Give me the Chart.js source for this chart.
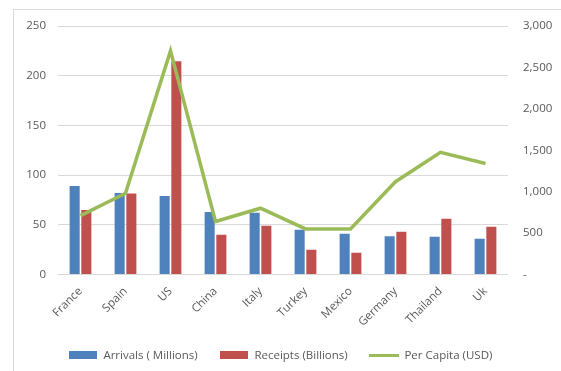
<!DOCTYPE html>
<html>
<head>
<meta charset="utf-8">
<script src="https://cdn.jsdelivr.net/npm/chart.js@4"></script>
<style>
    html, body { margin: 0; padding: 0; background: #fff; }
    #wrap { position: relative; width: 561px; height: 371px; }
    #frame { position: absolute; left: 13px; top: 9px; right: -2px; bottom: -2px;
             border: 1px solid #d9d9d9; }
    canvas { position: absolute; left: 0; top: 0; }
</style>
</head>
<body>
<div id="wrap">
    <div id="frame"></div>
    <canvas id="grafico" width="561" height="371"></canvas>
</div>
<script>
// dados
const paises = ["France", "Spain", "US", "China", "Italy", "Turkey", "Mexico", "Germany", "Thailand", "Uk"];
const chegadas = [89, 82, 79, 63, 62, 45, 41, 38.5, 38, 36];
const receitas = [65, 81.5, 214.5, 40, 49, 25, 22, 43, 56, 48];
const perCapita = [710, 980, 2700, 640, 800, 550, 550, 1120, 1475, 1340];

const cinza = "#595959";
const fonte = { family: "'Open Sans', 'Liberation Sans', sans-serif", size: 11.5 };

// marcadores da legenda (caixa para barras, traço para linha)
function marcador(cor, w, h) {
    const c = document.createElement("canvas");
    c.width = w; c.height = h;
    const ctx = c.getContext("2d");
    ctx.fillStyle = cor;
    ctx.fillRect(0, 0, w, h);
    return c;
}

new Chart(document.getElementById("grafico"), {
    type: "bar",
    data: {
        labels: paises,
        datasets: [
            {
                type: "line",
                label: "Per Capita (USD)",
                data: perCapita,
                yAxisID: "y1",
                borderColor: "#9bbb59",
                backgroundColor: "#9bbb59",
                borderWidth: 3.5,
                pointRadius: 0,
                tension: 0,
                order: 0
            },
            {
                label: "Arrivals ( Millions)",
                data: chegadas,
                yAxisID: "y",
                backgroundColor: "#4f81bd",
                categoryPercentage: 0.52,
                barPercentage: 0.86,
                order: 1
            },
            {
                label: "Receipts (Billions)",
                data: receitas,
                yAxisID: "y",
                backgroundColor: "#c0504d",
                categoryPercentage: 0.52,
                barPercentage: 0.86,
                order: 1
            }
        ]
    },
    options: {
        responsive: false,
        animation: false,
        layout: { padding: { top: 26, left: 0, right: 0, bottom: 0 } },
        plugins: {
            legend: {
                position: "bottom",
                labels: {
                    color: cinza,
                    font: fonte,
                    usePointStyle: true,
                    pointStyleWidth: 29,
                    boxHeight: 8,
                    padding: 22,
                    sort: (a, b) => (a.datasetIndex === 0 ? 1 : 0) - (b.datasetIndex === 0 ? 1 : 0) || a.datasetIndex - b.datasetIndex,
                    generateLabels: chart => {
                        const itens = Chart.defaults.plugins.legend.labels.generateLabels(chart);
                        itens.forEach(it => {
                            const ds = chart.data.datasets[it.datasetIndex];
                            it.pointStyle = it.datasetIndex === 0
                                ? marcador(ds.borderColor, 30, 3)
                                : marcador(ds.backgroundColor, 28, 8);
                        });
                        return itens;
                    }
                }
            },
            tooltip: { enabled: false }
        },
        scales: {
            x: {
                grid: { display: false },
                border: { display: false },
                ticks: { color: cinza, font: fonte, autoSkip: false, minRotation: 45, maxRotation: 45, padding: 2 },
                afterFit: s => { s.height = 53; }
            },
            y: {
                position: "left",
                min: 0, max: 250,
                ticks: { stepSize: 50, color: cinza, font: fonte, padding: 12 },
                grid: { color: "#d9d9d9", drawTicks: false },
                border: { display: false },
                afterFit: s => { s.width = 58; }
            },
            y1: {
                position: "right",
                min: 0, max: 3000,
                ticks: {
                    stepSize: 500, color: cinza, font: fonte, padding: 15,
                    callback: v => v === 0 ? "-" : v.toLocaleString("en-US")
                },
                grid: { display: false, drawTicks: false },
                border: { display: false },
                afterFit: s => { s.width = 53; }
            }
        }
    }
});
</script>
</body>
</html>
